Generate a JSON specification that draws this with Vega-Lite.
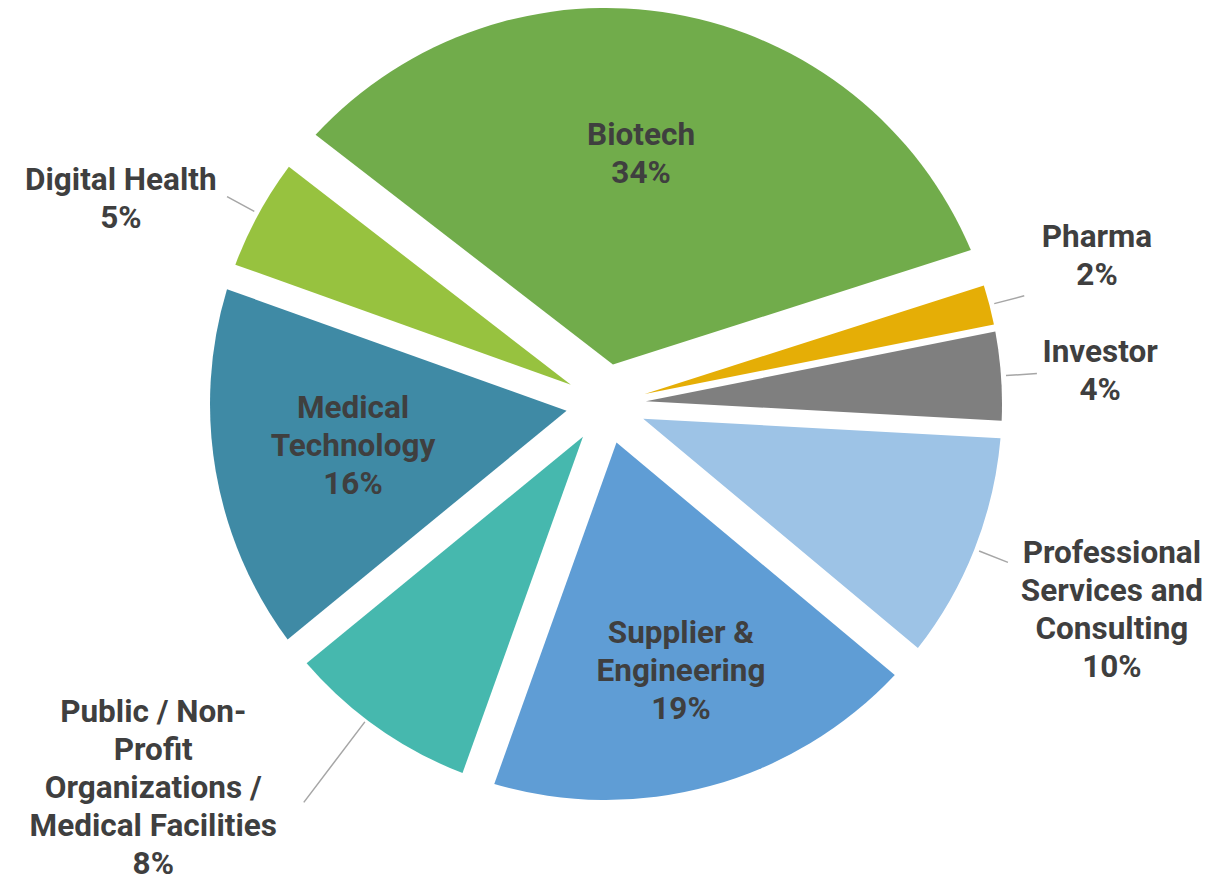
{
  "$schema": "https://vega.github.io/schema/vega-lite/v6.json",
  "width": 1212,
  "height": 808,
  "autosize": {"type": "none"},
  "padding": {"left": 0, "top": 0, "right": 12, "bottom": 76},
  "background": "white",
  "config": {
    "view": {"stroke": null},
    "text": {"font": "Roboto", "fontWeight": "bold", "fontSize": 31.5, "lineHeight": 38, "lineBreak": "\n", "color": "#3F3F3F", "dy": 2}
  },
  "data": {
    "values": [
      {"k": 1, "sector": "Biotech", "value": 34.6, "label": "Biotech\n34%"},
      {"k": 2, "sector": "Pharma", "value": 1.8, "label": "Pharma\n2%"},
      {"k": 3, "sector": "Investor", "value": 4.0, "label": "Investor\n4%"},
      {"k": 4, "sector": "Professional Services and Consulting", "value": 10.2, "label": "Professional\nServices and\nConsulting\n10%"},
      {"k": 5, "sector": "Supplier & Engineering", "value": 19.4, "label": "Supplier &\nEngineering\n19%"},
      {"k": 6, "sector": "Public / Non-Profit Organizations / Medical Facilities", "value": 8.6, "label": "Public  / Non-\nProfit\nOrganizations /\nMedical Facilities\n8%"},
      {"k": 7, "sector": "Medical Technology", "value": 16.4, "label": "Medical\nTechnology\n16%"},
      {"k": 8, "sector": "Digital Health", "value": 5.0, "label": "Digital Health\n5%"}
    ]
  },
  "encoding": {
    "theta": {"field": "value", "type": "quantitative", "stack": true, "scale": {"range": [-0.9128, 5.3704]}},
    "order": {"field": "k", "type": "quantitative", "sort": "ascending"},
    "detail": {"field": "sector", "type": "nominal"}
  },
  "layer": [
    {
      "mark": {"type": "arc", "innerRadius": 40, "outerRadius": 396, "padAngle": {"expr": "2*asin(40*sin(PI*datum.value/100)/sqrt(1600+396*396))"}},
      "encoding": {
        "color": {
          "field": "sector",
          "type": "nominal",
          "legend": null,
          "scale": {
            "domain": ["Biotech", "Pharma", "Investor", "Professional Services and Consulting", "Supplier & Engineering", "Public / Non-Profit Organizations / Medical Facilities", "Medical Technology", "Digital Health"],
            "range": ["#71AC4B", "#E5AE06", "#7F7F7F", "#9DC3E6", "#5F9DD5", "#46B8AE", "#3F8AA5", "#97C23F"]
          }
        }
      }
    },
    {
      "mark": {"type": "arc", "innerRadius": 401, "outerRadius": 432, "padAngle": 3.1416, "fillOpacity": 0, "stroke": "#A6A6A6", "strokeWidth": 1.5},
      "encoding": {
        "opacity": {"condition": {"test": "datum.value < 15 && datum.k != 6", "value": 1}, "value": 0}
      }
    },
    {
      "mark": {"type": "arc", "innerRadius": 399, "outerRadius": 500, "thetaOffset": 0.035, "padAngle": 3.1416, "fillOpacity": 0, "stroke": "#A6A6A6", "strokeWidth": 1.5},
      "encoding": {
        "opacity": {"condition": {"test": "datum.k == 6", "value": 1}, "value": 0}
      }
    },
    {
      "mark": {"type": "text", "radius": 272, "thetaOffset": -0.045},
      "encoding": {"text": {"condition": {"test": "datum.k == 1", "field": "label", "type": "nominal"}, "value": ""}}
    },
    {
      "mark": {"type": "text", "radius": 519, "thetaOffset": -0.077},
      "encoding": {"text": {"condition": {"test": "datum.k == 2", "field": "label", "type": "nominal"}, "value": ""}}
    },
    {
      "mark": {"type": "text", "radius": 497, "thetaOffset": -0.037},
      "encoding": {"text": {"condition": {"test": "datum.k == 3", "field": "label", "type": "nominal"}, "value": ""}}
    },
    {
      "mark": {"type": "text", "radius": 527, "thetaOffset": -0.091},
      "encoding": {"text": {"condition": {"test": "datum.k == 4", "field": "label", "type": "nominal"}, "value": ""}}
    },
    {
      "mark": {"type": "text", "radius": 240, "thetaOffset": -0.052},
      "encoding": {"text": {"condition": {"test": "datum.k == 5", "field": "label", "type": "nominal"}, "value": ""}}
    },
    {
      "mark": {"type": "text", "radius": 550, "thetaOffset": 0.353, "dy": -3},
      "encoding": {"text": {"condition": {"test": "datum.k == 6", "field": "label", "type": "nominal"}, "value": ""}}
    },
    {
      "mark": {"type": "text", "radius": 253, "thetaOffset": 0.159},
      "encoding": {"text": {"condition": {"test": "datum.k == 7", "field": "label", "type": "nominal"}, "value": ""}}
    },
    {
      "mark": {"type": "text", "radius": 535, "thetaOffset": -0.066},
      "encoding": {"text": {"condition": {"test": "datum.k == 8", "field": "label", "type": "nominal"}, "value": ""}}
    }
  ]
}
